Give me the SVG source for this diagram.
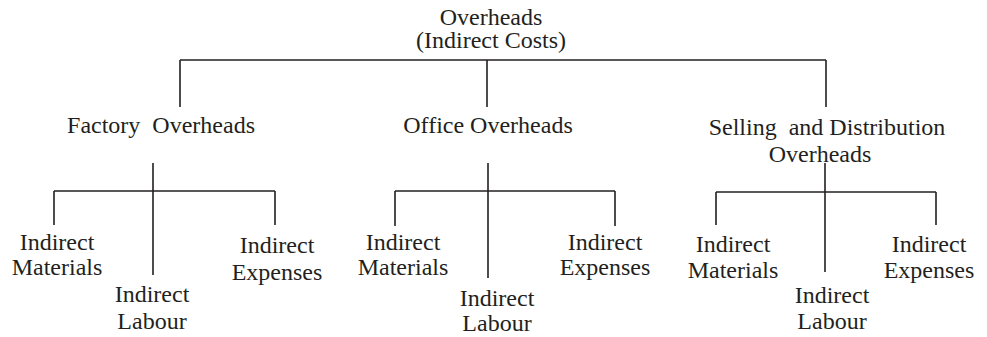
<svg xmlns="http://www.w3.org/2000/svg" width="987" height="337" viewBox="0 0 987 337">
<style>
text{font-family:"Liberation Serif","Times New Roman",serif;font-size:24px;fill:#231f20;text-anchor:middle}
.c line{stroke:#231f20;stroke-width:1.6;fill:none}
</style>
<rect width="987" height="337" fill="#fff"/>
<g class="c" id="connectors">
<line x1="180" y1="60" x2="826" y2="60"/>
<line x1="180" y1="60" x2="180" y2="107"/>
<line x1="487" y1="60" x2="487" y2="107"/>
<line x1="826" y1="60" x2="826" y2="107"/>
<line x1="153" y1="163" x2="153" y2="275"/>
<line x1="54" y1="191" x2="275" y2="191"/>
<line x1="54" y1="191" x2="54" y2="225"/>
<line x1="275" y1="191" x2="275" y2="225"/>
<line x1="488" y1="163" x2="488" y2="278"/>
<line x1="395" y1="191" x2="615" y2="191"/>
<line x1="395" y1="191" x2="395" y2="226"/>
<line x1="615" y1="191" x2="615" y2="226"/>
<line x1="825" y1="163" x2="825" y2="272"/>
<line x1="716" y1="192" x2="936" y2="192"/>
<line x1="716" y1="192" x2="716" y2="225"/>
<line x1="936" y1="192" x2="936" y2="225"/>
</g>
<g id="root"><text x="491" y="25">Overheads</text><text x="491" y="48">(Indirect Costs)</text></g>
<g id="factory"><text x="161" y="133" xml:space="preserve">Factory  Overheads</text></g>
<g id="office"><text x="488" y="133">Office Overheads</text></g>
<g id="selling"><text x="827" y="135" xml:space="preserve">Selling  and Distribution</text><text x="820" y="162">Overheads</text></g>
<g id="f-mat"><text x="57" y="250">Indirect</text><text x="57" y="275">Materials</text></g>
<g id="f-lab"><text x="152" y="302">Indirect</text><text x="152" y="329">Labour</text></g>
<g id="f-exp"><text x="277" y="253">Indirect</text><text x="277" y="280">Expenses</text></g>
<g id="o-mat"><text x="403" y="250">Indirect</text><text x="403" y="275">Materials</text></g>
<g id="o-lab"><text x="497" y="306">Indirect</text><text x="497" y="331">Labour</text></g>
<g id="o-exp"><text x="605" y="250">Indirect</text><text x="605" y="275">Expenses</text></g>
<g id="s-mat"><text x="733" y="252">Indirect</text><text x="733" y="278">Materials</text></g>
<g id="s-lab"><text x="832" y="303">Indirect</text><text x="832" y="329">Labour</text></g>
<g id="s-exp"><text x="929" y="252">Indirect</text><text x="929" y="278">Expenses</text></g>
</svg>
